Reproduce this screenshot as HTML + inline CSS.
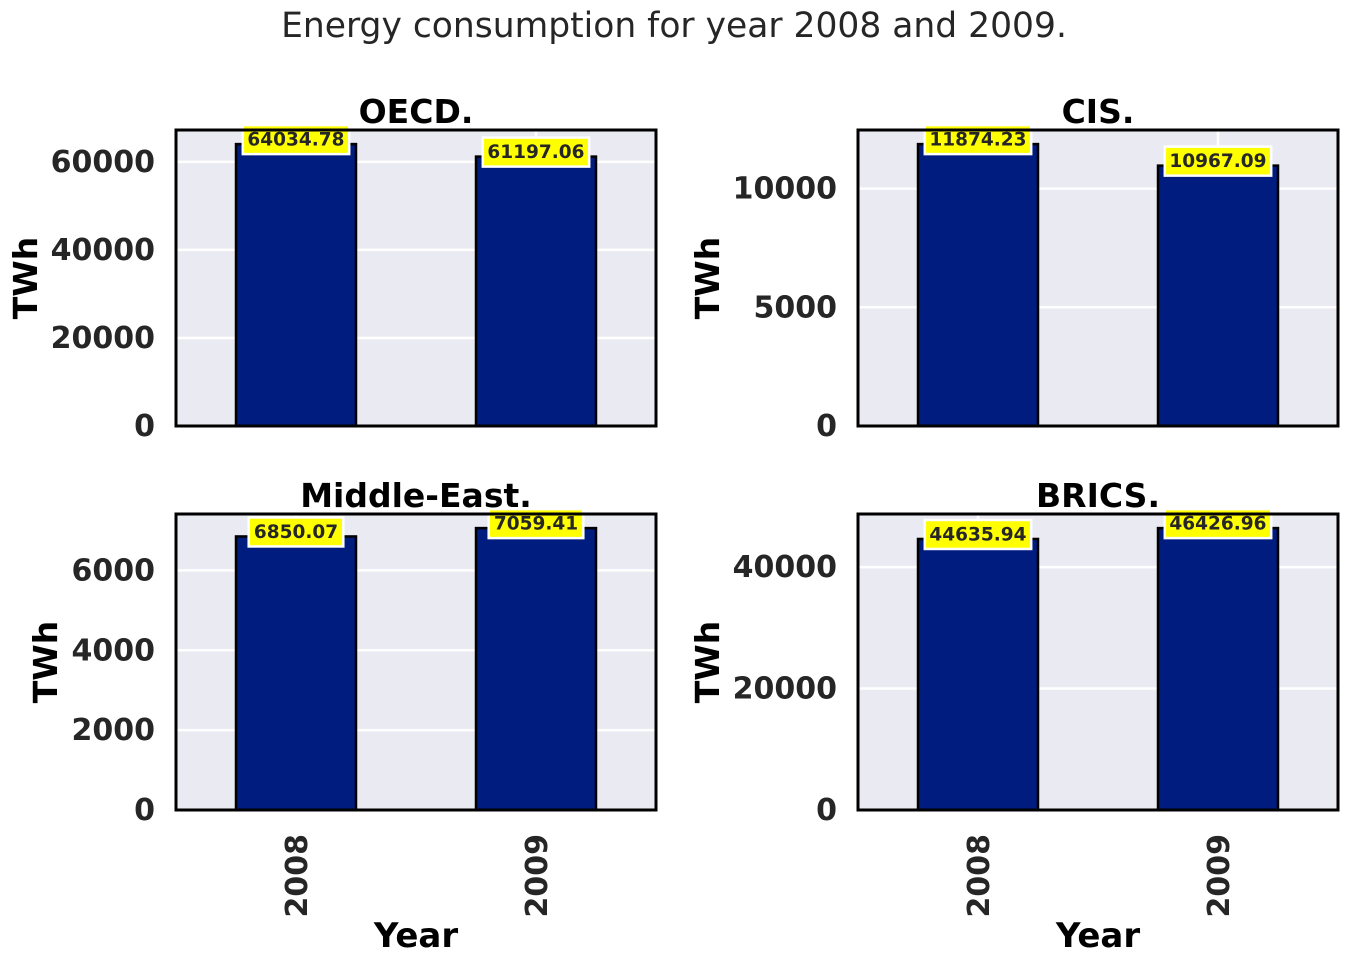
<!DOCTYPE html>
<html><head><meta charset="utf-8"><style>
body{margin:0;background:#fff;}
svg text{font-family:"DejaVu Sans","Liberation Sans",sans-serif;}
</style></head><body>
<svg id="c" width="1348" height="964" xmlns="http://www.w3.org/2000/svg">
<text x="674" y="37" text-anchor="middle" font-size="34.5" fill="#262626">Energy consumption for year 2008 and 2009.</text>
</svg>
<script>
const categories = ["2008", "2009"];
const panelTitles = ["OECD.", "CIS.", "Middle-East.", "BRICS."];
const oecdValues = [64034.78, 61197.06];
const cisValues = [11874.23, 10967.09];
const middleEastValues = [6850.07, 7059.41];
const bricsValues = [44635.94, 46426.96];
const oecdTicks = [0, 20000, 40000, 60000];
const cisTicks = [0, 5000, 10000];
const middleEastTicks = [0, 2000, 4000, 6000];
const bricsTicks = [0, 20000, 40000];

const NS = "http://www.w3.org/2000/svg";
const svg = document.getElementById("c");
function mk(tag, attrs, parent) {
  const e = document.createElementNS(NS, tag);
  for (const k in attrs) e.setAttribute(k, attrs[k]);
  (parent || svg).appendChild(e);
  return e;
}
const panels = [
  {x0:176, y0:130, vals:oecdValues, ticks:oecdTicks, bottom:false, key:"oecd", ylx:25},
  {x0:858, y0:130, vals:cisValues, ticks:cisTicks, bottom:false, key:"cis", ylx:707},
  {x0:176, y0:514, vals:middleEastValues, ticks:middleEastTicks, bottom:true, key:"middle-east", ylx:45},
  {x0:858, y0:514, vals:bricsValues, ticks:bricsTicks, bottom:true, key:"brics", ylx:707}
];
const W = 480, H = 296;
panels.forEach((p, pi) => {
  const g = mk("g", {});
  
  
  const ymax = Math.max(...p.vals) * 1.05;
  const ys = v => p.y0 + H - v / ymax * H;
  const xs = i => p.x0 + (i + 0.5) * W / 2;
  mk("rect", {x:p.x0, y:p.y0, width:W, height:H, fill:"#eaeaf2"}, g);
  p.ticks.forEach(t => {
    const y = ys(t);
    const gl = mk("line", {x1:p.x0, x2:p.x0+W, y1:y, y2:y, stroke:"#fff", "stroke-width":2.5}, g);
    
    
    const tl = mk("text", {x:p.x0-21, y:y+10, "text-anchor":"end", "font-size":30, "font-weight":"bold", fill:"#262626"}, g);
    tl.textContent = t;
    
    
  });
  categories.forEach((c, i) => {
    const x = xs(i);
    const gl = mk("line", {x1:x, x2:x, y1:p.y0, y2:p.y0+H, stroke:"#fff", "stroke-width":2.5}, g);
    
    
  });
  categories.forEach((c, i) => {
    const x = xs(i), y = ys(p.vals[i]);
    const b = mk("rect", {x:x-60, y:y, width:120, height:p.y0+H-y, fill:"#001c7f", stroke:"#000", "stroke-width":2.5}, g);
    
    
    const lab = String(p.vals[i].toFixed(2));
    const bw = lab.length * 11.8 + 12;
    const r = mk("rect", {x:x-bw/2, y:y-19, width:bw, height:29, fill:"#ffff00", stroke:"#fff", "stroke-width":2.5}, g);
    
    
    const t = mk("text", {x:x, y:y+1.5, "text-anchor":"middle", "font-size":18.5, "font-weight":"bold", fill:"#262626"}, g);
    t.textContent = lab;
    
    
    if (p.bottom) {
      const xt = mk("text", {transform:`translate(${x+11},${p.y0+H+24}) rotate(-90)`, "text-anchor":"end", "font-size":30, "font-weight":"bold", fill:"#262626"}, g);
      xt.textContent = c;
      
      
    }
  });
  mk("rect", {x:p.x0, y:p.y0, width:W, height:H, fill:"none", stroke:"#000", "stroke-width":3}, g);
  const tt = mk("text", {x:p.x0+W/2, y:p.y0-7, "text-anchor":"middle", "font-size":33, "font-weight":"bold", fill:"#000"}, g);
  tt.textContent = panelTitles[pi];
  
  
  const yl = mk("text", {transform:`translate(${p.ylx+12},${p.y0+H/2}) rotate(-90)`, "text-anchor":"middle", "font-size":33, "font-weight":"bold", fill:"#000"}, g);
  yl.textContent = "TWh";
  
  
  if (p.bottom) {
    const xl = mk("text", {x:p.x0+W/2, y:947, "text-anchor":"middle", "font-size":34, "font-weight":"bold", fill:"#000"}, g);
    xl.textContent = "Year";
    
    
  }
});
</script>
</body></html>
